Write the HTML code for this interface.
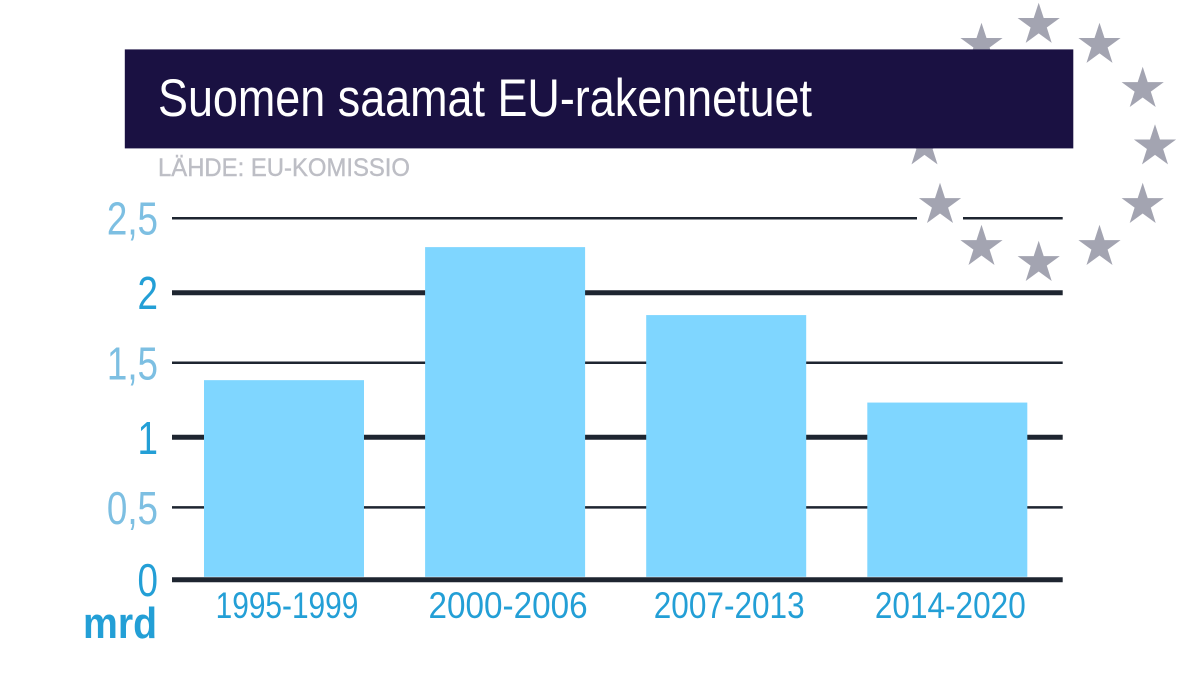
<!DOCTYPE html>
<html lang="fi">
<head>
<meta charset="utf-8">
<title>Suomen saamat EU-rakennetuet</title>
<style>
html,body{margin:0;padding:0;background:#fff;width:1198px;height:674px;overflow:hidden}
svg{display:block}
text{font-family:"Liberation Sans",sans-serif}
</style>
</head>
<body>
<svg id="chart" xmlns="http://www.w3.org/2000/svg" width="1198" height="674" viewBox="0 0 1198 674">
  <rect x="0" y="0" width="1198" height="674" fill="#fff"/>
  <g id="grid"></g>
  <g id="bars"></g>
  <g id="axis"></g>
  <g id="ylabels"></g>
  <g id="xlabels"></g>
  <text x="83" y="638" font-size="44" font-weight="700" fill="#239fd6" textLength="74" lengthAdjust="spacingAndGlyphs">mrd</text>

  <rect x="917" y="214" width="46" height="7" fill="#fff"/>
  <g fill="#a3a4b1">
    <defs><polygon id="star" points="0,-22.2 5,-6.9 21.1,-6.9 8.1,2.6 13,18 0,8.5 -13,18 -8.1,2.6 -21.1,-6.9 -5,-6.9"/></defs>
    <use href="#star" x="1038.7" y="24.9"/>
    <use href="#star" x="1099.5" y="44.9"/>
    <use href="#star" x="1142.7" y="89"/>
    <use href="#star" x="1155" y="146.4"/>
    <use href="#star" x="1142.7" y="205"/>
    <use href="#star" x="1099.5" y="247"/>
    <use href="#star" x="1038.7" y="263"/>
    <use href="#star" x="981.5" y="247"/>
    <use href="#star" x="940" y="205"/>
    <use href="#star" x="924.5" y="146.4"/>
    <use href="#star" x="981.5" y="44.9"/>
  </g>

  <rect x="124.8" y="49.4" width="948.5" height="99" fill="#1a1142"/>
  <text x="158" y="116" font-size="53" fill="#ffffff" textLength="654" lengthAdjust="spacingAndGlyphs">Suomen saamat EU-rakennetuet</text>
  <text x="158" y="176" font-size="25" fill="#bdbec5" stroke="#bdbec5" stroke-width="0.4" textLength="252" lengthAdjust="spacingAndGlyphs">LÄHDE: EU-KOMISSIO</text>
</svg>
<script>
const categories = ['1995-1999', '2000-2006', '2007-2013', '2014-2020'];
const seriesValues = [1.38, 2.30, 1.83, 1.225];
const tickValues = [0, 0.5, 1, 1.5, 2, 2.5];
const tickLabels = ['0', '0,5', '1', '1,5', '2', '2,5'];

const SVG_NS = 'http://www.w3.org/2000/svg';
const yScale = function (v) { return 579.7 - 144.6 * v; };
const xCenter = function (i) { return 284 + 221.1 * i; };
const isMajor = function (t) { return Number.isInteger(t); };
const gridY = function (t) { return yScale(t) + (isMajor(t) && t > 0 ? 2.2 : 0); };
const labelWidth = function (s) {
  let w = 0;
  for (const ch of s) { w += ch === '1' ? 10 : ch === '-' ? 13.5 : 18.2; }
  return w;
};

const gridGroup = document.getElementById('grid');
const axisGroup = document.getElementById('axis');
const yGroup = document.getElementById('ylabels');
const xGroup = document.getElementById('xlabels');
const barGroup = document.getElementById('bars');

tickValues.forEach(function (t, i) {
  const line = document.createElementNS(SVG_NS, 'line');
  
  
  line.setAttribute('x1', 172);
  line.setAttribute('x2', 1062.7);
  line.setAttribute('y1', gridY(t));
  line.setAttribute('y2', gridY(t));
  line.setAttribute('stroke', '#1e2530');
  line.setAttribute('stroke-width', isMajor(t) ? 5 : 2.5);
  (t === 0 ? axisGroup : gridGroup).appendChild(line);

  const label = document.createElementNS(SVG_NS, 'text');
  
  
  label.setAttribute('transform', 'translate(158,' + (gridY(t) + 16.5) + ') scale(0.8,1)');
  label.setAttribute('text-anchor', 'end');
  label.setAttribute('font-size', 46);
  label.setAttribute('fill', isMajor(t) ? '#239fd6' : '#7dbfe2');
  label.textContent = tickLabels[i];
  yGroup.appendChild(label);
});

categories.forEach(function (c, i) {
  const bar = document.createElementNS(SVG_NS, 'rect');
  
  
  bar.setAttribute('x', xCenter(i) - 80);
  bar.setAttribute('y', yScale(seriesValues[i]));
  bar.setAttribute('width', 160);
  bar.setAttribute('height', yScale(0) - 2.9 - yScale(seriesValues[i]));
  bar.setAttribute('fill', '#7fd6ff');
  barGroup.appendChild(bar);

  const w = labelWidth(c);
  const text = document.createElementNS(SVG_NS, 'text');
  
  
  text.setAttribute('x', xCenter(i) + 3 - w / 2);
  text.setAttribute('y', 618);
  text.setAttribute('font-size', 37);
  text.setAttribute('fill', '#239fd6');
  text.setAttribute('textLength', w);
  text.setAttribute('lengthAdjust', 'spacingAndGlyphs');
  text.textContent = c;
  xGroup.appendChild(text);
});
</script>
</body>
</html>
